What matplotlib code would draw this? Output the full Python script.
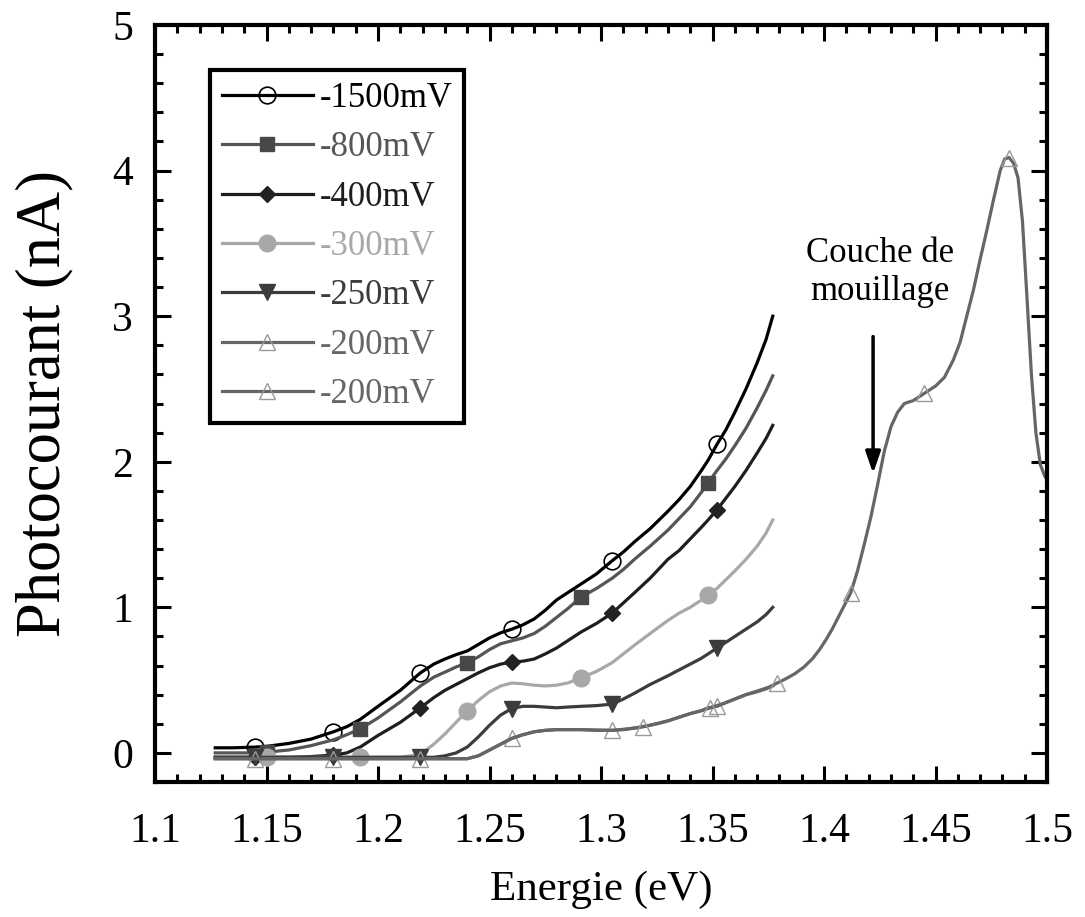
import numpy as np
import matplotlib
matplotlib.use('Agg')
import matplotlib.pyplot as plt
from matplotlib.ticker import MultipleLocator, FixedLocator, FixedFormatter

plt.rcParams['font.family'] = ['Liberation Serif', 'DejaVu Serif']

# common energy grid for the bias curves (eV)
energie = [1.127, 1.135, 1.145, 1.15, 1.16, 1.17, 1.18, 1.186, 1.192, 1.20,
           1.21, 1.219, 1.225, 1.23, 1.235, 1.24, 1.245, 1.25, 1.255, 1.26,
           1.265, 1.27, 1.275, 1.28, 1.285, 1.291, 1.298, 1.305, 1.31, 1.315,
           1.322, 1.33, 1.335, 1.34, 1.345, 1.348, 1.352, 1.356, 1.36, 1.365,
           1.37, 1.374, 1.377]

i_1500 = [0.035, 0.035, 0.04, 0.045, 0.065, 0.095, 0.145, 0.18, 0.23, 0.32,
          0.43, 0.55, 0.61, 0.645, 0.675, 0.70, 0.745, 0.79, 0.825, 0.85,
          0.88, 0.92, 0.98, 1.05, 1.10, 1.16, 1.23, 1.32, 1.38, 1.45,
          1.54, 1.66, 1.74, 1.83, 1.94, 2.01, 2.12, 2.22, 2.34, 2.50,
          2.68, 2.84, 3.0]
i_800 = [0.0, 0.0, 0.0, 0.005, 0.02, 0.05, 0.09, 0.125, 0.165, 0.24,
         0.35, 0.46, 0.52, 0.555, 0.59, 0.62, 0.66, 0.71, 0.75, 0.77,
         0.79, 0.82, 0.87, 0.93, 0.99, 1.07, 1.13, 1.20, 1.26, 1.33,
         1.42, 1.53, 1.61, 1.69, 1.79, 1.855, 1.94, 2.02, 2.11, 2.23,
         2.37, 2.49, 2.59]
i_400 = [-0.03, -0.03, -0.03, -0.03, -0.03, -0.025, -0.015, 0.0, 0.04, 0.12,
         0.21, 0.31, 0.38, 0.43, 0.47, 0.51, 0.55, 0.585, 0.61, 0.625,
         0.63, 0.645, 0.68, 0.72, 0.77, 0.83, 0.89, 0.96, 1.03, 1.10,
         1.20, 1.33, 1.39, 1.47, 1.55, 1.60, 1.67, 1.75, 1.83, 1.94,
         2.06, 2.16, 2.25]
i_300 = [-0.03] * 11 + [-0.01, 0.06, 0.13, 0.21, 0.29, 0.36, 0.42, 0.46, 0.48,
                       0.475, 0.465, 0.46, 0.465, 0.48, 0.515, 0.56, 0.62, 0.68, 0.74,
                       0.82, 0.91, 0.96, 1.00, 1.05, 1.085, 1.13, 1.19, 1.25, 1.33,
                       1.42, 1.51, 1.60]
i_250 = [-0.03] * 13 + [-0.02, 0.0, 0.04, 0.11, 0.19, 0.26, 0.305,
                       0.32, 0.32, 0.315, 0.31, 0.315, 0.32, 0.325, 0.335, 0.37, 0.41,
                       0.47, 0.53, 0.57, 0.61, 0.65, 0.68, 0.72, 0.76, 0.80, 0.85,
                       0.90, 0.95, 1.0]
i_200 = [-0.04] * 16 + [-0.02, 0.02, 0.06, 0.10,
                       0.125, 0.145, 0.155, 0.16, 0.16, 0.16, 0.155, 0.155, 0.16, 0.17,
                       0.19, 0.22, 0.245, 0.27, 0.29, 0.31, 0.32, 0.345, 0.37, 0.40,
                       0.42, 0.44, 0.46]

# long -200mV spectrum, up to the wetting layer peak
energie_long = [1.127, 1.15, 1.18, 1.21, 1.24, 1.245, 1.25, 1.255, 1.26, 1.265,
                1.27, 1.275, 1.28, 1.29, 1.305, 1.312, 1.319, 1.325, 1.33, 1.335,
                1.34, 1.345, 1.349, 1.355, 1.36, 1.365, 1.37, 1.375, 1.379, 1.383,
                1.387, 1.391, 1.395, 1.398, 1.401, 1.404, 1.407, 1.41, 1.412, 1.415,
                1.418, 1.421, 1.424, 1.427, 1.43, 1.433, 1.436, 1.44, 1.445, 1.45,
                1.454, 1.458, 1.461, 1.464, 1.467, 1.47, 1.473, 1.476, 1.479, 1.481,
                1.483, 1.485, 1.487, 1.489, 1.491, 1.493, 1.495, 1.497, 1.499, 1.5]
i_200_long = [-0.04, -0.04, -0.04, -0.04, -0.04, -0.02, 0.02, 0.06, 0.10, 0.125,
              0.145, 0.155, 0.16, 0.16, 0.155, 0.165, 0.18, 0.20, 0.22, 0.245,
              0.27, 0.29, 0.31, 0.34, 0.37, 0.40, 0.425, 0.45, 0.48, 0.51,
              0.545, 0.59, 0.65, 0.71, 0.78, 0.86, 0.95, 1.04, 1.10, 1.25,
              1.43, 1.62, 1.84, 2.07, 2.24, 2.34, 2.40, 2.42, 2.47, 2.52,
              2.58, 2.70, 2.82, 3.00, 3.18, 3.39, 3.59, 3.80, 4.0, 4.08,
              4.09, 4.05, 3.95, 3.65, 3.13, 2.60, 2.20, 1.98, 1.90, 1.88]

# marker positions (eV)
marks_a = [1.145, 1.18, 1.219, 1.26, 1.305, 1.352]
marks_b = [1.15, 1.192, 1.24, 1.291, 1.348]
marks_long = [1.319, 1.349, 1.379, 1.412, 1.445, 1.483]

labels = ['-1500mV', '-800mV', '-400mV', '-300mV', '-250mV', '-200mV', '-200mV']
xtick_vals = [1.1, 1.15, 1.2, 1.25, 1.3, 1.35, 1.4, 1.45, 1.5]
xtick_labels = ['1.1', '1.15', '1.2', '1.25', '1.3', '1.35', '1.4', '1.45', '1.5']


def idx(xs, marks):
    xs = np.asarray(xs)
    return [int(np.argmin(np.abs(xs - m))) for m in marks]


fig = plt.figure(figsize=(10.85, 9.17), dpi=100)
ax = fig.add_axes([0.1429, 0.1472, 0.8221, 0.8255])

lw = 2.3
ax.plot(energie, i_1500, color='black', lw=lw, marker='o', ms=12, mfc='none',
        mec='black', mew=1.2, markevery=idx(energie, marks_a), label=labels[0])
ax.plot(energie, i_800, color='#555555', lw=lw, marker='s', ms=10.5, mfc='#484848',
        mec='#484848', markevery=idx(energie, marks_b), label=labels[1])
ax.plot(energie, i_400, color='#1e1e1e', lw=lw, marker='D', ms=8.5, mfc='#222222',
        mec='#222222', markevery=idx(energie, marks_a), label=labels[2])
ax.plot(energie, i_300, color='#a8a8a8', lw=lw, marker='o', ms=12, mfc='#a8a8a8',
        mec='#a8a8a8', markevery=idx(energie, marks_b), label=labels[3])
ax.plot(energie, i_250, color='#3c3c3c', lw=lw, marker='v', ms=12, mfc='#3c3c3c',
        mec='#3c3c3c', markevery=idx(energie, marks_a), label=labels[4])
ax.plot(energie, i_200, color='#666666', lw=lw, marker='^', ms=12, mfc='none',
        mec='#9a9a9a', mew=1.0, markevery=idx(energie, marks_a), label=labels[5])
ax.plot(energie_long, i_200_long, color='#666666', lw=lw, marker='^', ms=12, mfc='none',
        mec='#9a9a9a', mew=1.0, markevery=idx(energie_long, marks_long), label=labels[6])

ax.set_xlim(1.1, 1.5)
ax.set_ylim(-0.2, 5)
ax.xaxis.set_major_locator(FixedLocator(xtick_vals))
ax.xaxis.set_major_formatter(FixedFormatter(xtick_labels))
ax.xaxis.set_minor_locator(MultipleLocator(0.01))
ax.yaxis.set_major_locator(MultipleLocator(1))
ax.yaxis.set_minor_locator(MultipleLocator(0.2))

ax.tick_params(which='both', direction='in', top=True, right=True, width=2.2)
ax.tick_params(which='major', length=11.5, labelsize=30)
ax.tick_params(which='minor', length=5.5)
ax.tick_params(axis='x', which='major', pad=22)
ax.tick_params(axis='y', which='major', pad=16)
for sp in ax.spines.values():
    sp.set_linewidth(3)

ax.set_xlabel('Energie (eV)', fontsize=31, labelpad=14)
ax.set_ylabel('Photocourant (nA)', fontsize=45, labelpad=28)

leg = ax.legend(loc='upper left', bbox_to_anchor=(0.0617, 0.9406), borderaxespad=0,
                fontsize=25, handlelength=2.6, labelspacing=0.47, fancybox=False,
                edgecolor='black', framealpha=1, handletextpad=0.2, borderpad=0.35)
leg.get_frame().set_linewidth(3)
for text, line in zip(leg.get_texts(), leg.get_lines()):
    text.set_color(line.get_color())

ax.annotate('', xy=(1.422, 1.92), xytext=(1.422, 2.86),
            arrowprops=dict(arrowstyle='-|>,head_length=1.3,head_width=0.45',
                            color='black', lw=2.5, shrinkA=0, shrinkB=0))
ax.text(1.4251, 3.30, 'Couche de\nmouillage', ha='center', va='center',
        fontsize=25, linespacing=1.2)

fig.savefig('out.png', dpi=100)
